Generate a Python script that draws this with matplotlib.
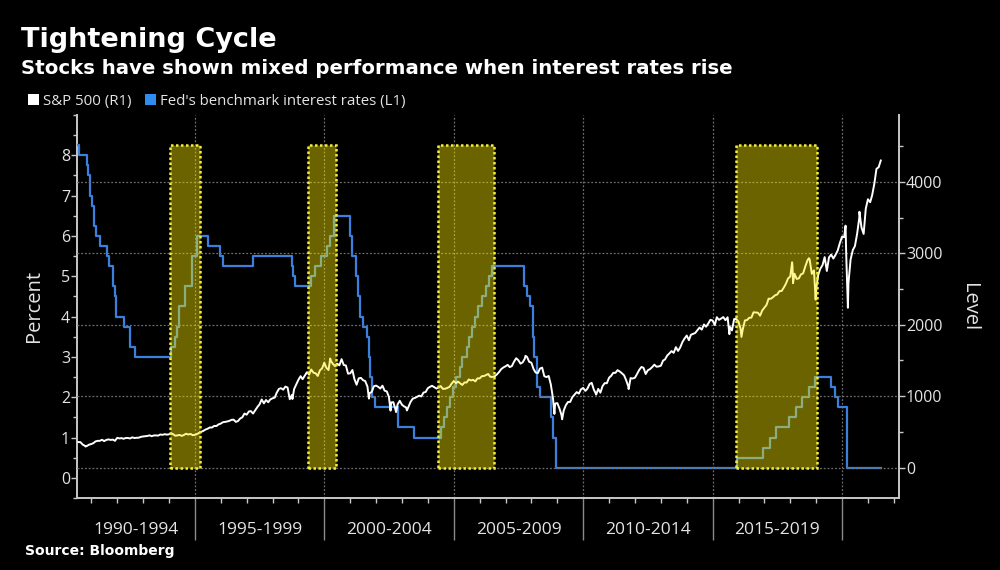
import numpy as np
import pandas as pd
import matplotlib
matplotlib.use("Agg")
import matplotlib.pyplot as plt
import matplotlib.dates as mdates
import matplotlib.transforms as mtransforms
from matplotlib.patches import Rectangle, Patch

plt.rcParams['font.family'] = ['Open Sans', 'DejaVu Sans']

title = "Tightening Cycle"
subtitle = "Stocks have shown mixed performance when interest rates rise"
source = "Source: Bloomberg"
legend_labels = ["S&P 500 (R1)", "Fed's benchmark interest rates (L1)"]

period_labels = ["1990-1994", "1995-1999", "2000-2004", "2005-2009", "2010-2014", "2015-2019"]
period_starts = [1990, 1995, 2000, 2005, 2010, 2015]

# Fed funds target (upper bound) change dates
fed_dates = ["1990-06-01", "1990-07-13", "1990-10-29", "1990-11-13", "1990-12-07", "1990-12-18",
             "1991-01-09", "1991-02-01", "1991-03-08", "1991-04-30", "1991-08-06", "1991-09-13",
             "1991-10-31", "1991-11-06", "1991-12-06", "1991-12-20",
             "1992-04-09", "1992-07-02", "1992-09-04",
             "1994-02-04", "1994-03-22", "1994-04-18", "1994-05-17", "1994-08-16", "1994-11-15",
             "1995-02-01", "1995-07-06", "1995-12-19", "1996-01-31", "1997-03-25",
             "1998-09-29", "1998-10-15", "1998-11-17",
             "1999-06-30", "1999-08-24", "1999-11-16", "2000-02-02", "2000-03-21", "2000-05-16",
             "2001-01-03", "2001-01-31", "2001-03-20", "2001-04-18", "2001-05-15", "2001-06-27",
             "2001-08-21", "2001-09-17", "2001-10-02", "2001-11-06", "2001-12-11",
             "2002-11-06", "2003-06-25",
             "2004-06-30", "2004-08-10", "2004-09-21", "2004-11-10", "2004-12-14",
             "2005-02-02", "2005-03-22", "2005-05-03", "2005-06-30", "2005-08-09", "2005-09-20",
             "2005-11-01", "2005-12-13", "2006-01-31", "2006-03-28", "2006-05-10", "2006-06-29",
             "2007-09-18", "2007-10-31", "2007-12-11",
             "2008-01-22", "2008-01-30", "2008-03-18", "2008-04-30", "2008-10-08", "2008-10-29", "2008-12-16",
             "2015-12-16", "2016-12-14", "2017-03-15", "2017-06-14", "2017-12-13",
             "2018-03-21", "2018-06-13", "2018-09-26", "2018-12-19",
             "2019-08-01", "2019-09-19", "2019-10-31", "2020-03-04", "2020-03-16", "2021-06-30"]
fed_rates = [8.25, 8.00, 7.75, 7.50, 7.25, 7.00,
             6.75, 6.25, 6.00, 5.75, 5.50, 5.25,
             5.00, 4.75, 4.50, 4.00,
             3.75, 3.25, 3.00,
             3.25, 3.50, 3.75, 4.25, 4.75, 5.50,
             6.00, 5.75, 5.50, 5.25, 5.50,
             5.25, 5.00, 4.75,
             5.00, 5.25, 5.50, 5.75, 6.00, 6.50,
             6.00, 5.50, 5.00, 4.50, 4.00, 3.75,
             3.50, 3.00, 2.50, 2.00, 1.75,
             1.25, 1.00,
             1.25, 1.50, 1.75, 2.00, 2.25,
             2.50, 2.75, 3.00, 3.25, 3.50, 3.75,
             4.00, 4.25, 4.50, 4.75, 5.00, 5.25,
             4.75, 4.50, 4.25,
             3.50, 3.00, 2.25, 2.00, 1.50, 1.00, 0.25,
             0.50, 0.75, 1.00, 1.25, 1.50,
             1.75, 2.00, 2.25, 2.50,
             2.25, 2.00, 1.75, 1.25, 0.25, 0.25]

# S&P 500 month-end closes, Jun 1990 - Jun 2021
sp500_first_month = "1990-06-30"
sp500_monthly = [
    358, 356, 323, 306, 304, 322, 330,
    344, 367, 375, 375, 390, 371, 388, 395, 388, 392, 375, 417,
    409, 413, 404, 415, 415, 408, 424, 414, 418, 419, 431, 436,
    439, 443, 452, 440, 450, 451, 448, 464, 459, 468, 462, 466,
    482, 467, 446, 451, 457, 444, 458, 475, 463, 472, 454, 459,
    470, 487, 501, 515, 533, 545, 562, 562, 584, 582, 605, 616,
    636, 640, 646, 654, 669, 671, 640, 652, 687, 705, 757, 741,
    786, 791, 757, 801, 848, 885, 954, 899, 947, 915, 955, 970,
    980, 1049, 1102, 1112, 1091, 1134, 1121, 957, 1017, 1099, 1164, 1229,
    1280, 1238, 1286, 1335, 1302, 1373, 1329, 1320, 1283, 1363, 1389, 1469,
    1394, 1366, 1499, 1452, 1421, 1455, 1431, 1518, 1437, 1429, 1315, 1320,
    1366, 1240, 1160, 1249, 1256, 1224, 1211, 1134, 1041, 1060, 1139, 1148,
    1130, 1107, 1147, 1077, 1067, 990, 912, 916, 815, 886, 936, 880,
    856, 841, 848, 917, 964, 975, 990, 1008, 996, 1051, 1058, 1112,
    1131, 1145, 1126, 1107, 1121, 1141, 1102, 1104, 1115, 1130, 1174, 1212,
    1181, 1204, 1181, 1157, 1192, 1191, 1234, 1220, 1229, 1207, 1249, 1248,
    1280, 1281, 1295, 1311, 1270, 1270, 1277, 1304, 1336, 1378, 1401, 1418,
    1438, 1407, 1421, 1482, 1531, 1503, 1455, 1474, 1527, 1549, 1481, 1468,
    1379, 1331, 1323, 1386, 1400, 1280, 1267, 1283, 1166, 969, 896, 903,
    826, 735, 798, 873, 919, 919, 987, 1021, 1057, 1036, 1096, 1115,
    1074, 1104, 1169, 1187, 1089, 1031, 1102, 1049, 1141, 1183, 1181, 1258,
    1286, 1327, 1326, 1364, 1345, 1321, 1292, 1219, 1131, 1253, 1247, 1258,
    1312, 1366, 1408, 1398, 1310, 1362, 1379, 1407, 1441, 1412, 1416, 1426,
    1498, 1515, 1569, 1598, 1631, 1606, 1686, 1633, 1682, 1757, 1806, 1848,
    1783, 1859, 1872, 1884, 1924, 1960, 1931, 2003, 1972, 2018, 2068, 2059,
    1995, 2105, 2068, 2086, 2107, 2063, 2104, 1972, 1920, 2079, 2080, 2044,
    1940, 1932, 2060, 2065, 2097, 2099, 2174, 2171, 2168, 2126, 2199, 2239,
    2279, 2364, 2363, 2384, 2412, 2423, 2470, 2472, 2519, 2575, 2648, 2674,
    2824, 2714, 2641, 2648, 2705, 2718, 2816, 2902, 2914, 2712, 2760, 2507,
    2704, 2784, 2834, 2946, 2752, 2942, 2980, 2926, 2977, 3038, 3141, 3231,
    3226, 2954, 2585, 2912, 3044, 3100, 3271, 3500, 3363, 3270, 3622, 3756,
    3714, 3811, 3973, 4181, 4204, 4298,
]
# intra-month highs and lows
sp500_extra_dates = ["1990-10-11", "1998-10-08", "2000-03-24", "2001-09-21", "2002-07-23",
                     "2002-10-09", "2003-03-11", "2007-10-09", "2008-11-20", "2009-03-09",
                     "2010-07-02", "2011-10-03", "2015-08-25", "2016-02-11", "2018-01-26",
                     "2018-02-08", "2018-09-20", "2018-12-24", "2020-02-19", "2020-03-23",
                     "2020-09-02"]
sp500_extra_values = [295, 960, 1527, 966, 797,
                      777, 800, 1565, 752, 677,
                      1022, 1099, 1868, 1829, 2873,
                      2581, 2931, 2351, 3386, 2237,
                      3580]

# tightening cycles (shaded spans)
hike_starts = ["1994-01-10", "1999-05-15", "2004-05-20", "2015-11-28"]
hike_ends = ["1995-03-15", "2000-06-15", "2006-07-20", "2019-01-15"]

blue = '#3a80dc'
txt = '#e4e4e4'
axcol = '#c8c8c8'

sp = pd.concat([
    pd.Series(sp500_monthly, index=pd.date_range(sp500_first_month, periods=len(sp500_monthly), freq='ME')),
    pd.Series(sp500_extra_values, index=pd.to_datetime(sp500_extra_dates)),
]).sort_index()

fig = plt.figure(figsize=(10, 5.7), dpi=100, facecolor='black')
ax = fig.add_axes([0.077, 0.1263, 0.822, 0.672])
ax.set_facecolor('black')
ax2 = ax.twinx()

ax.plot(pd.to_datetime(fed_dates), fed_rates, drawstyle='steps-post', color=blue, lw=1.6, zorder=3)
ax2.plot(sp.index, sp.values, color='white', lw=1.4, zorder=3)

ax.set_xlim(pd.Timestamp('1990-06-12'), pd.Timestamp('2022-03-14'))
ax.set_ylim(-0.5, 9.0)
ax2.set_ylim(-425, 4935)

lo, hi = min(fed_rates), max(fed_rates)
for s, e in zip(hike_starts, hike_ends):
    x0 = mdates.date2num(pd.Timestamp(s))
    x1 = mdates.date2num(pd.Timestamp(e))
    r = Rectangle((x0, lo), x1 - x0, hi - lo, transform=ax.transData,
                  facecolor=(1.0, 0.93, 0.0, 0.42), edgecolor='#f2ee3a',
                  lw=1.8, linestyle=(0, (1, 1)), zorder=6)
    ax2.add_patch(r)

# x axis
ax.xaxis.set_major_locator(mdates.YearLocator(5))
ax.xaxis.set_minor_locator(mdates.YearLocator(1))
ax.xaxis.set_major_formatter(plt.NullFormatter())
ax.tick_params(axis='x', which='major', length=30, width=1, color='#8a8a8a', direction='out')
ax.tick_params(axis='x', which='minor', length=3.5, width=1, color=axcol, direction='out')
ax.grid(axis='x', which='major', color='#6e6e6e', linestyle=(0, (1.5, 1.5)), lw=0.9)

xl = ax.get_xlim()
trans = mtransforms.blended_transform_factory(ax.transData, ax.transAxes)
for lab, y0 in zip(period_labels, period_starts):
    a = max(mdates.date2num(pd.Timestamp(f'{y0}-01-01')), xl[0])
    b = mdates.date2num(pd.Timestamp(f'{y0 + 5}-01-01'))
    ax.text((a + b) / 2, -0.083, lab, transform=trans, ha='center', va='center',
            color=txt, fontsize=12.5)

# left axis
ax.set_yticks(range(0, 9))
ax.set_yticks(np.arange(-0.5, 9.01, 0.5), minor=True)
ax.tick_params(axis='y', which='major', length=4, width=1, color=axcol, labelcolor=txt,
               labelsize=11.5, pad=1)
ax.tick_params(axis='y', which='minor', length=3, width=1, color=axcol)

# right axis
ax2.set_yticks(range(0, 4001, 1000))
ax2.set_yticks(range(500, 4501, 1000), minor=True)
ax2.tick_params(axis='y', which='major', length=4, width=1, color=axcol, labelcolor=txt,
                labelsize=11.5, pad=1)
ax2.tick_params(axis='y', which='minor', length=3, width=1, color=axcol)
ax2.grid(axis='y', which='major', color='#6e6e6e', linestyle=(0, (1.5, 1.5)), lw=0.9)

for a_ in (ax, ax2):
    for sname, spn in a_.spines.items():
        spn.set_visible(False)
ax.spines['left'].set_visible(True)
ax.spines['bottom'].set_visible(True)
ax2.spines['right'].set_visible(True)
for spn in (ax.spines['left'], ax.spines['bottom'], ax2.spines['right']):
    spn.set_color(axcol)
    spn.set_linewidth(1.4)

fig.text(0.034, 1 - 306 / 570, "Percent", rotation=90, ha='center', va='center', color=txt, fontsize=14.5)
fig.text(0.969, 1 - 307 / 570, "Level", rotation=270, ha='center', va='center', color=txt, fontsize=14.5)

fig.text(0.021, 1 - 40 / 570, title, ha='left', va='center', color='white', fontsize=19.5,
         fontweight='bold', family='DejaVu Sans')
fig.text(0.021, 1 - 68 / 570, subtitle, ha='left', va='center', color='white', fontsize=14.2,
         fontweight='bold', family='DejaVu Sans')
fig.text(0.025, 1 - 551 / 570, source, ha='left', va='center', color='white', fontsize=10,
         fontweight='bold', family='DejaVu Sans')

handles = [Patch(facecolor='white', edgecolor='none'), Patch(facecolor='#2f8cf0', edgecolor='none')]
fig.legend(handles, legend_labels, loc='center left', bbox_to_anchor=(0.028, 1 - 101 / 570),
           ncol=2, frameon=False, handlelength=0.75, handleheight=0.75, handletextpad=0.25,
           columnspacing=0.9, fontsize=10.8, labelcolor=txt, borderaxespad=0, borderpad=0)

fig.savefig('out.png', dpi=100, facecolor='black')
